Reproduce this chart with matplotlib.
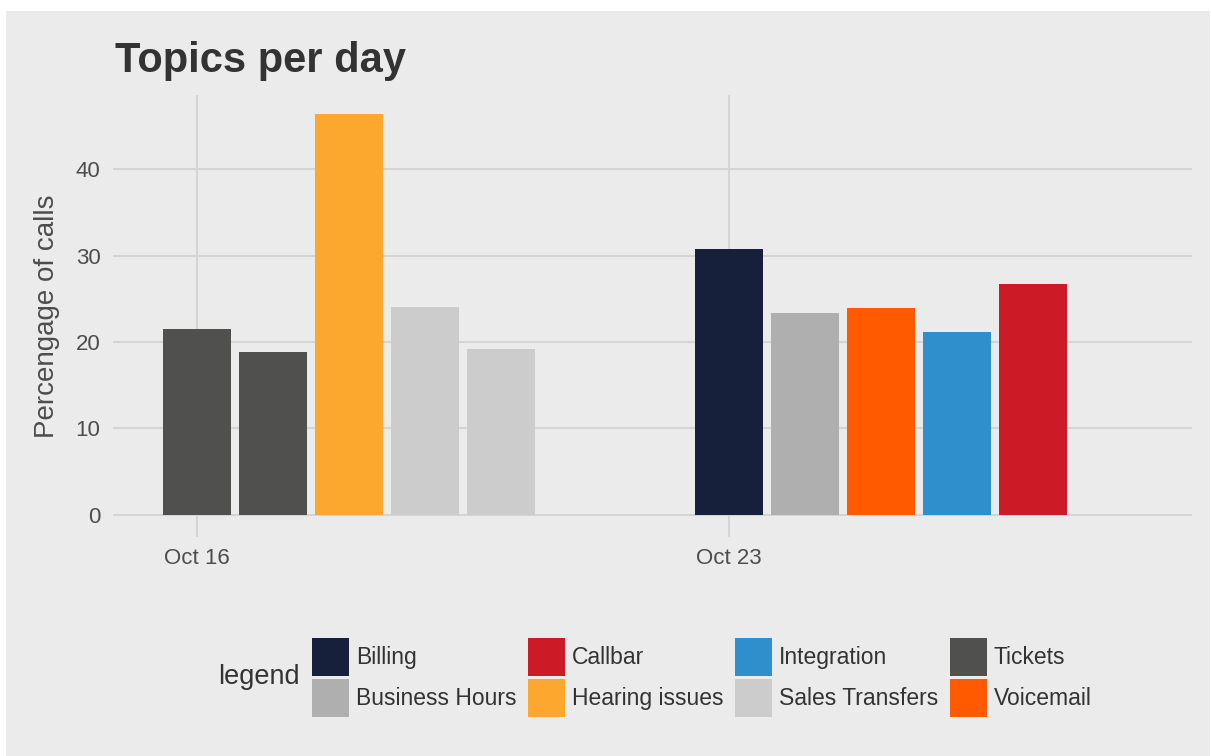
import datetime as dt

import matplotlib.pyplot as plt
import matplotlib.dates as mdates
from matplotlib.patches import Patch, Rectangle

plt.rcParams['font.family'] = ['Liberation Sans', 'DejaVu Sans']

# one bar per day, coloured by the day's top topic
days = [dt.date(2014, 10, d) for d in (16, 17, 18, 19, 20, 23, 24, 25, 26, 27)]
topics = ['Tickets', 'Tickets', 'Hearing issues', 'Sales Transfers', 'Sales Transfers',
          'Billing', 'Business Hours', 'Voicemail', 'Integration', 'Callbar']
percent = [21.45, 18.8, 46.4, 24.1, 19.2, 30.8, 23.4, 23.9, 21.1, 26.7]

legend_order = ['Billing', 'Business Hours', 'Callbar', 'Hearing issues',
                'Integration', 'Sales Transfers', 'Tickets', 'Voicemail']
topic_colors = {
    'Billing': '#17203a',
    'Business Hours': '#afafaf',
    'Callbar': '#cc1b26',
    'Hearing issues': '#fca82f',
    'Integration': '#2e8fcc',
    'Sales Transfers': '#cccccc',
    'Tickets': '#50514f',
    'Voicemail': '#ff5a00',
}
tick_days = [dt.date(2014, 10, 16), dt.date(2014, 10, 23)]

W, H = 1211, 756
bg = '#ebebeb'
grid = '#d4d4d4'

fig = plt.figure(figsize=(W / 100, H / 100), dpi=100, facecolor='white')
fig.patches.append(Rectangle((6 / W, 0), 1 - 7 / W, 1 - 11 / H,
                             transform=fig.transFigure, facecolor=bg,
                             edgecolor='none', zorder=-10))

ax = fig.add_axes([113 / W, 1 - 537 / H, (1192 - 113) / W, (537 - 95) / H])
ax.set_facecolor(bg)
ax.bar(days, percent, width=0.9, color=[topic_colors[t] for t in topics], zorder=3)

ax.set_ylim(-2.6, 48.6)
ax.set_xlim(mdates.date2num(tick_days[0]) - 1.105, mdates.date2num(tick_days[0]) + 13.09)
ax.set_yticks([0, 10, 20, 30, 40])
ax.set_xticks(tick_days)
ax.xaxis.set_major_formatter(mdates.DateFormatter('%b %d'))
ax.grid(True, color=grid, linewidth=1.5, zorder=0)
ax.tick_params(length=0, labelsize=16, labelcolor='#4d4d4d')
ax.tick_params(axis='x', pad=8)
ax.tick_params(axis='y', pad=9)
for s in ax.spines.values():
    s.set_visible(False)

fig.text(115 / W, 1 - 72 / H, 'Topics per day', fontsize=30, fontweight='bold',
         color='#333333', va='baseline', ha='left')
fig.text(47 / W, 1 - 316 / H, 'Percengage of calls', fontsize=20, rotation=90,
         color='#4d4d4d', va='center', ha='center')

handles = [Patch(facecolor=topic_colors[t], edgecolor='none') for t in legend_order]
fig.legend(handles, legend_order, loc='upper left', ncol=4,
           bbox_to_anchor=(312 / W, 1 - 638 / H), frameon=False, fontsize=16.5,
           borderpad=0, borderaxespad=0, handlelength=1.62, handleheight=2.15,
           handletextpad=0.3, labelspacing=0.15, columnspacing=0.5,
           labelcolor='#333333')
fig.text(218 / W, 1 - 677 / H, 'legend', fontsize=19.5, color='#333333',
         va='center', ha='left')

fig.savefig('out.png', dpi=100, facecolor='white')
